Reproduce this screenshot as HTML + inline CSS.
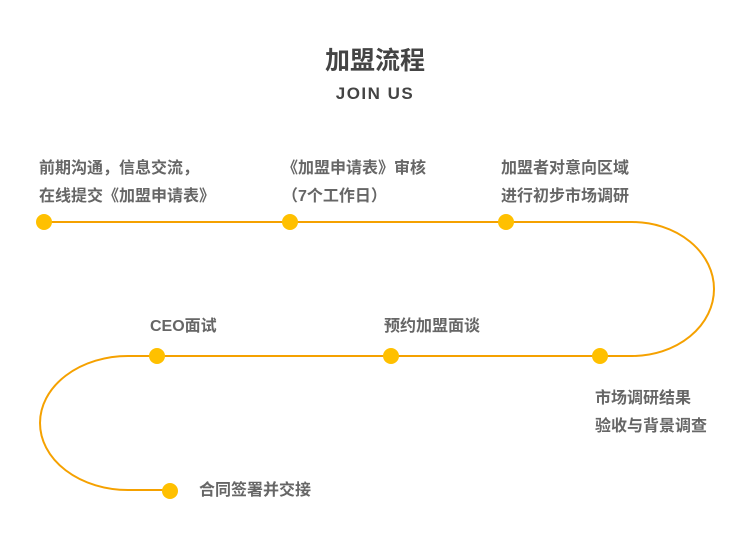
<!DOCTYPE html>
<html><head><meta charset="utf-8"><style>
body{margin:0;width:750px;height:547px;background:#fff;position:relative;overflow:hidden;font-family:"Liberation Sans","Noto Sans CJK SC",sans-serif;}
.t{position:absolute;color:#666;font-size:16px;font-weight:bold;line-height:28px;white-space:nowrap;}
</style></head><body>
<div style="position:absolute;top:41px;width:750px;text-align:center;font-size:25px;font-weight:bold;color:#444;">加盟流程</div>
<div style="position:absolute;top:84px;width:750px;text-align:center;font-size:17px;font-weight:bold;color:#444;letter-spacing:1.5px;">JOIN US</div>
<svg width="750" height="547" style="position:absolute;left:0;top:0">
<path d="M44 222 H632 A82 67 0 0 1 632 356 H128 A88 67 0 0 0 128 490 H170" fill="none" stroke="#F5A100" stroke-width="2"/>
<g fill="#FFC000">
<circle cx="44" cy="222" r="8"/><circle cx="290" cy="222" r="8"/><circle cx="506" cy="222" r="8"/>
<circle cx="157" cy="356" r="8"/><circle cx="391" cy="356" r="8"/><circle cx="600" cy="356" r="8"/>
<circle cx="170" cy="491" r="8"/></g></svg>
<div class="t" style="left:39px;top:155px">前期沟通，信息交流，<br>在线提交《加盟申请表》</div>
<div class="t" style="left:282px;top:155px">《加盟申请表》审核<br>（7个工作日）</div>
<div class="t" style="left:501px;top:155px">加盟者对意向区域<br>进行初步市场调研</div>
<div class="t" style="left:150px;top:313px">CEO面试</div>
<div class="t" style="left:384px;top:313px">预约加盟面谈</div>
<div class="t" style="left:595px;top:385px">市场调研结果<br>验收与背景调查</div>
<div class="t" style="left:199px;top:477px">合同签署并交接</div>
</body></html>
